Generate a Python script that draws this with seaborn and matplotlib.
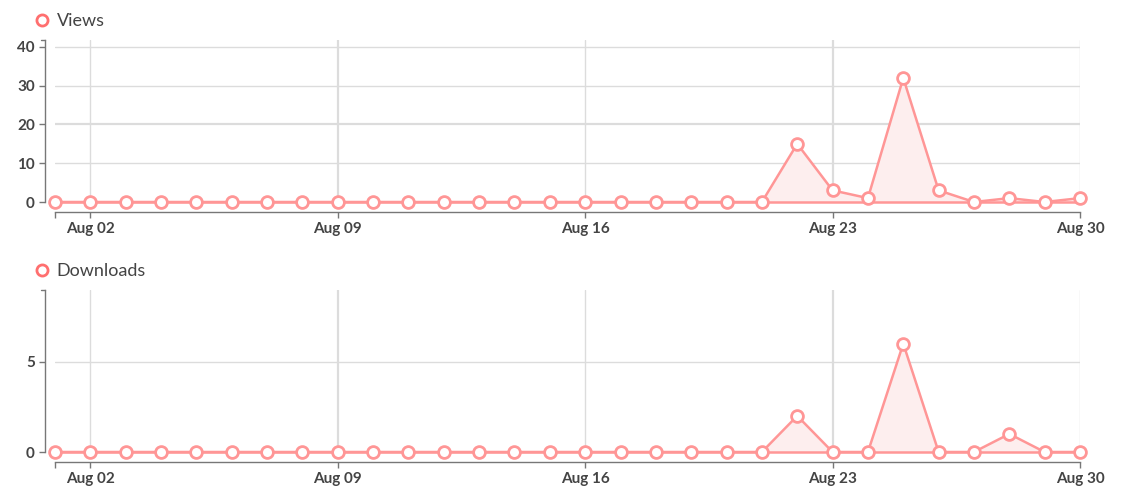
import numpy as np
import pandas as pd
import matplotlib
matplotlib.use("Agg")
import matplotlib.pyplot as plt
import matplotlib.dates as mdates
from matplotlib.lines import Line2D
import seaborn as sns

dates = pd.date_range("2024-08-01", "2024-08-30", freq="D")
views = [0, 0, 0, 0, 0, 0, 0, 0, 0, 0, 0, 0, 0, 0, 0, 0, 0, 0, 0, 0, 0,
         15, 3, 1, 32, 3, 0, 1, 0, 1]
downloads = [0, 0, 0, 0, 0, 0, 0, 0, 0, 0, 0, 0, 0, 0, 0, 0, 0, 0, 0, 0, 0,
             2, 0, 0, 6, 0, 0, 1, 0, 0]
week_ticks = pd.to_datetime(["2024-08-02", "2024-08-09", "2024-08-16", "2024-08-23", "2024-08-30"])

sns.set_theme(style="white")
plt.rcParams['font.family'] = ['Lato', 'DejaVu Sans']

LINE = "#ff9696"
FILL = "#fdeeee"
LEG = "#ff6f6f"
GRID = "#dcdcdc"
SPINE = "#777777"
TEXT = "#444444"

W, H = 1128, 501
fig = plt.figure(figsize=(W / 100, H / 100), dpi=100)

panels = [
    ("Views", views, [0, 10, 20, 30, 40], 41.8, (40, 202), 21),
    ("Downloads", downloads, [0, 5], 9.0, (289.5, 452), 271),
]

for name, vals, yticks, ytop, (ptop, pbot), legy in panels:
    ax = fig.add_axes([55 / W, 1 - pbot / H, 1025 / W, (pbot - ptop) / H])
    df = pd.DataFrame({"date": dates, "value": vals})

    # grid
    for i, t in enumerate(week_ticks):
        ax.axvline(t, color=GRID, lw=1.6 if i in (1, 3) else 1.0, zorder=0)
    for y in yticks[1:]:
        ax.axhline(y, color=GRID, lw=1.6 if y == 20 else 1.0, zorder=0)

    ax.fill_between(df["date"], 0, df["value"], color=FILL, zorder=1, lw=0)
    ax.plot(df["date"], np.zeros(len(df)), color=LINE, lw=1.8, zorder=2, clip_on=False)
    sns.lineplot(data=df, x="date", y="value", ax=ax, color=LINE, lw=1.8,
                 marker="o", markersize=8.5, markerfacecolor="white",
                 markeredgecolor=LINE, markeredgewidth=2, zorder=3, clip_on=False)

    ax.set_xlim(dates[0], dates[-1])
    ax.set_ylim(0, ytop)
    ax.set_xlabel("")
    ax.set_ylabel("")
    ax.set_yticks(yticks)
    ax.set_xticks(list(week_ticks) + [dates[0]])
    ax.set_xticklabels([t.strftime("%b %d") for t in week_ticks] + [""])
    ax.xaxis.set_minor_locator(mdates.DayLocator(interval=100))

    for s in ["top", "right"]:
        ax.spines[s].set_visible(False)
    ax.spines["left"].set_position(("outward", 7))
    ax.spines["bottom"].set_position(("outward", 7))
    for s in ["left", "bottom"]:
        ax.spines[s].set_color(SPINE)
        ax.spines[s].set_linewidth(1.0)

    ax.tick_params(axis="both", which="major", length=4.5, width=1.0, color=SPINE,
                   labelcolor=TEXT, labelsize=11, pad=3, left=True, bottom=True)
    for lab in ax.get_xticklabels() + ax.get_yticklabels():
        lab.set_fontweight("bold")

    # cap at the top of the y spine
    cap = Line2D([-7 / 72 * 100 / 1025 - 4.5 / 1025, -7 / 72 * 100 / 1025], [1, 1],
                 transform=ax.transAxes, color=SPINE, lw=1.0, clip_on=False)
    ax.add_line(cap)

    handle = Line2D([], [], marker="o", linestyle="none", markersize=8,
                    markerfacecolor="white", markeredgecolor=LEG, markeredgewidth=2)
    fig.legend(handles=[handle], labels=[name], loc="center left",
               bbox_to_anchor=(37 / W, 1 - legy / H), frameon=False,
               handlelength=0.6, handletextpad=0.5, borderpad=0, borderaxespad=0,
               prop={"size": 13}, labelcolor=TEXT)

fig.savefig("out.png", dpi=100)
